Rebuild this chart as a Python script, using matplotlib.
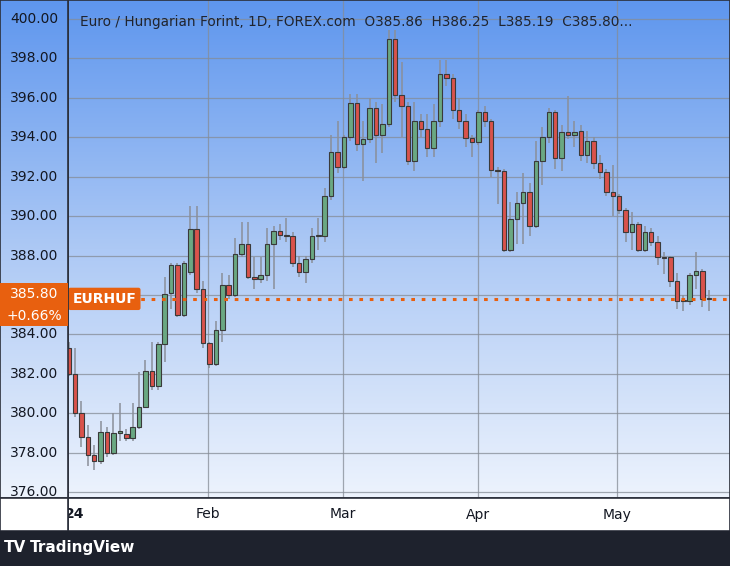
import numpy as np
import matplotlib
matplotlib.use("Agg")
import matplotlib.pyplot as plt
from matplotlib.patches import Rectangle
from matplotlib.colors import LinearSegmentedColormap

opens = [383.3,382.0,380.0,378.8,377.9,377.6,379.05,378.0,379.0,378.95,378.75,379.3,380.3,382.15,381.4,383.5,386.1,387.5,385.0,387.15,
         389.35,386.3,383.55,382.5,384.2,386.5,386.0,388.1,388.6,386.9,386.8,387.0,388.6,389.25,389.02,389.0,387.6,387.15,387.8,389.0,
         389.0,391.0,393.25,392.5,394.0,395.75,393.65,393.9,395.5,394.1,394.65,399.0,396.15,395.6,392.8,394.8,394.4,393.45,394.8,397.2,
         397.0,395.4,394.8,393.95,393.75,395.3,394.8,392.35,392.3,388.3,389.85,390.65,391.2,389.5,392.8,394.0,395.3,392.95,394.25,394.1,
         394.3,393.1,393.8,392.7,392.25,391.2,391.0,390.3,389.2,389.6,388.3,389.2,388.7,387.9,387.9,386.7,385.7,385.7,387.0,387.2,385.86]
closes = [382.0,380.0,378.8,377.9,377.6,379.05,378.0,379.0,379.1,378.75,379.3,380.3,382.15,381.4,383.5,386.05,387.5,385.0,387.6,389.35,
          386.3,383.55,382.5,384.2,386.5,386.0,388.1,388.6,386.9,386.8,387.0,388.6,389.25,389.05,388.98,387.6,387.15,387.8,389.0,389.04,
          391.0,393.25,392.5,394.0,395.75,393.65,393.9,395.5,394.1,394.65,399.0,396.15,395.6,392.8,394.8,394.4,393.45,394.8,397.2,397.0,
          395.4,394.8,393.95,393.75,395.3,394.8,392.35,392.3,388.3,389.85,390.65,391.2,389.5,392.8,394.0,395.3,392.95,394.25,394.1,394.25,
          393.1,393.8,392.7,392.25,391.2,391.0,390.3,389.2,389.6,388.3,389.2,388.7,387.9,387.88,386.7,385.7,385.68,387.0,387.2,385.8,385.80]
highs = [383.6,383.3,380.6,379.4,378.4,379.6,379.3,380.0,380.5,379.2,380.5,382.1,382.7,383.6,383.6,386.9,387.6,387.6,387.7,390.5,
         390.5,386.7,383.6,384.7,387.1,387.0,388.9,389.7,389.7,387.9,387.9,389.4,389.5,389.6,389.9,389.2,388.0,388.0,389.4,389.9,
         391.4,394.1,394.8,394.1,396.2,396.2,394.8,396.0,395.8,395.7,399.45,399.45,397.8,395.8,395.8,395.2,395.2,395.7,397.9,397.9,
         397.2,396.0,395.2,394.1,395.4,395.6,394.9,392.5,392.4,390.7,391.2,392.2,391.7,393.8,394.5,395.5,395.4,394.6,396.1,394.8,
         394.6,394.3,394.0,393.1,392.4,392.6,391.1,390.4,390.2,389.7,389.5,389.4,389.0,388.2,388.0,387.1,386.0,387.1,388.2,387.3,386.25]
lows = [381.9,379.8,378.3,377.3,377.1,377.4,377.8,377.9,378.6,378.6,378.6,379.2,380.3,381.2,381.2,382.6,385.3,384.9,384.9,387.0,
        386.1,383.3,382.3,382.4,383.6,385.8,385.9,387.9,386.8,386.3,386.6,386.7,386.3,388.8,388.7,387.4,386.9,386.6,387.6,388.3,
        388.7,390.8,392.2,392.4,393.8,393.3,391.8,393.7,392.7,393.2,394.5,395.8,394.0,392.6,392.3,394.0,393.0,393.0,394.5,396.6,
        394.9,394.4,393.5,393.0,393.6,394.5,392.0,390.6,388.2,388.2,388.6,388.6,389.0,389.4,391.6,393.7,392.4,392.3,393.9,393.5,
        392.8,392.7,392.4,391.9,391.0,390.0,390.1,388.7,388.3,388.2,388.2,388.5,387.5,387.05,386.4,385.3,385.2,385.5,386.3,385.4,385.19]

month_labels = ["24", "Feb", "Mar", "Apr", "May"]
month_pos = [1, 21.8, 42.9, 64, 85.7]
price_ticks = [376, 378, 380, 382, 384, 386, 388, 390, 392, 394, 396, 398, 400]
last_price = 385.80
change_text = "+0.66%"
title = "Euro / Hungarian Forint, 1D, FOREX.com  O385.86  H386.25  L385.19  C385.80..."

W, H = 730, 566
fig = plt.figure(figsize=(W/100, H/100), dpi=100)
fig.patch.set_facecolor("white")

plot_l, plot_b = 68, 566-498
ax = fig.add_axes([plot_l/W, plot_b/H, (W-plot_l)/W, (H-plot_b)/H])
pax = fig.add_axes([0, plot_b/H, plot_l/W, (H-plot_b)/H])

ylo, yhi = 375.7, 400.96
grad = np.linspace(0, 1, 256).reshape(-1, 1)
cmap = LinearSegmentedColormap.from_list("bg", ["#edf3fd", "#adc9f5", "#5e96ee"])
for a in (ax, pax):
    a.imshow(grad, aspect="auto", cmap=cmap, origin="lower", extent=[0, 1, 0, 1],
             transform=a.transAxes, zorder=0)
    a.set_ylim(ylo, yhi)
    for s in a.spines.values():
        s.set_color("#2a2e39"); s.set_linewidth(1.2)
    a.set_xticks([]); a.set_yticks([])

ax.set_xlim(-0.1, 103.3)
for p in price_ticks:
    ax.axhline(p, color="#858c96", lw=0.9, alpha=0.75, zorder=1)
for m in month_pos[1:]:
    ax.axvline(m, color="#858c96", lw=0.9, alpha=0.75, zorder=1)

wid = 0.7
for i, (o, c, h, l) in enumerate(zip(opens, closes, highs, lows)):
    col = "#6aa882" if c >= o else "#d9534b"
    ax.vlines(i, l, h, color="#8a8f99", lw=1.1, zorder=2)
    bottom = min(o, c); ht = max(abs(c - o), 0.06)
    ax.add_patch(Rectangle((i - wid/2, bottom), wid, ht, facecolor=col,
                           edgecolor="#3a3a3a", lw=0.8, zorder=3))

ax.axhline(last_price, color="#e8600f", lw=2.2, ls=(0, (1.2, 2.2)), zorder=4)
ax.text(0.6, last_price, "EURHUF", color="white", fontsize=10, fontweight="bold",
        va="center", ha="left", zorder=6,
        bbox=dict(boxstyle="round,pad=0.3,rounding_size=0.15", fc="#e8600f", ec="none"))
ax.text(1.8, 399.85, title, fontsize=9.8, color="#1f2430", va="center", ha="left", zorder=6)

for p in price_ticks:
    if p == 386:
        continue
    pax.text(0.86, p, f"{p:.2f}", transform=pax.get_yaxis_transform(), ha="right",
             va="center", fontsize=10, color="#131722", zorder=3)
pax.add_patch(Rectangle((0, 384.4), 1, 2.2, facecolor="#e8600f", edgecolor="none", zorder=4))
pax.text(0.5, 386.05, f"{last_price:.2f}", transform=pax.get_yaxis_transform(), ha="center",
         va="center", fontsize=10, color="white", zorder=5)
pax.text(0.5, 384.95, change_text, transform=pax.get_yaxis_transform(), ha="center",
         va="center", fontsize=10, color="white", zorder=5)

xax = fig.add_axes([plot_l/W, 35/H, (W-plot_l)/W, 33/H])
xax.set_xlim(-0.1, 103.3); xax.set_ylim(0, 1)
xax.set_xticks([]); xax.set_yticks([])
for s in xax.spines.values():
    s.set_color("#2a2e39"); s.set_linewidth(1.2)
for lab, pos in zip(month_labels, month_pos):
    xax.text(pos, 0.5, lab, ha="center", va="center", fontsize=10,
             fontweight="bold" if lab == "24" else "normal", color="#131722")
lax = fig.add_axes([0, 35/H, plot_l/W, 33/H])
lax.set_xticks([]); lax.set_yticks([])
for s in lax.spines.values():
    s.set_color("#2a2e39"); s.set_linewidth(1.2)

fig.patches.append(Rectangle((0, 0), 1, 35/H, transform=fig.transFigure,
                             facecolor="#1e222d", edgecolor="none"))
fig.text(4/W, 11/H, "TV", fontsize=11, fontweight="bold", color="white", va="bottom")
fig.text(30/W, 11/H, "TradingView", fontsize=11, fontweight="bold", color="white", va="bottom")

fig.savefig("out.png", dpi=100)
